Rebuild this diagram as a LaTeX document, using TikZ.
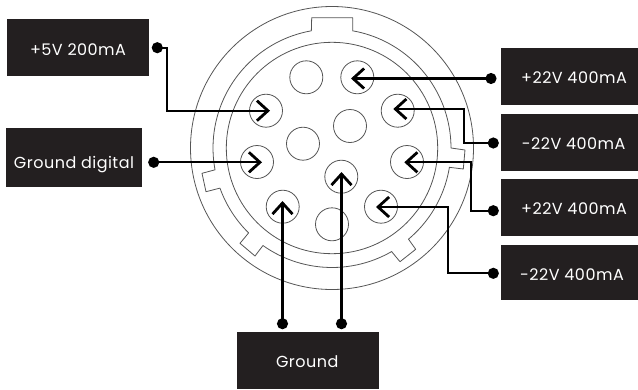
\documentclass[tikz,border=0pt]{standalone}
\usepackage{fontspec}
\setmainfont[LetterSpace=3]{Poppins}
\usetikzlibrary{arrows.meta}
\definecolor{boxc}{HTML}{231F20}
\definecolor{ringc}{HTML}{555555}
\tikzset{
  boxn/.style={fill=boxc,draw=none,inner sep=0pt,anchor=north west},
  txt/.style={text=white,inner sep=0pt,font=\fontsize{16}{18}\selectfont},
  ring/.style={draw=ringc,line width=0.8pt},
  pin/.style={circle,draw=ringc,line width=0.8pt,minimum size=33pt,inner sep=0pt},
  wire/.style={draw=black,line width=2.2pt,shorten <=-5.5pt,{Circle[length=11pt,width=11pt]}-{Straight Barb[length=11pt,width=20pt,line width=2.8pt]}},
}
\begin{document}
\begin{tikzpicture}[x=1pt,y=-1pt]
\useasboundingbox (0,0) rectangle (638,389);
% connector body
\coordinate (c) at (332,148);
\draw[ring] (c) circle[radius=141.5pt];
\draw[ring] (c) circle[radius=105.7pt];
\draw[ring,line join=round] (311.7,17.7) -- (352.7,17.7) -- (352.7,31)
  -- plot[domain=-80:0,samples=40] ({332+119*cos(\x)},{148+119*sin(\x)})
  -- (465,150) -- (463.3,169) -- (449.3,167.3)
  -- plot[domain=9.3:50,samples=20] ({332+119*cos(\x)},{148+119*sin(\x)})
  -- (415.7,249.3) -- (400,261.7) -- (391.7,251.7)
  -- plot[domain=60:125.3,samples=30] ({332+119.5*cos(\x)},{148+119.5*sin(\x)})
  -- (255,256) -- (240,243.3) -- (248.3,233.3)
  -- plot[domain=134.5:160.3,samples=15] ({332+119*cos(\x)},{148+119*sin(\x)})
  -- (206,191.7) -- (202,173.3) -- (214.3,170)
  -- plot[domain=169.4:260,samples=40] ({332+119*cos(\x)},{148+119*sin(\x)})
  -- cycle;
% pins
\node[pin] (p1) at (306.3,77.3) {};
\node[pin] (p2) at (357.3,77.3) {};
\node[pin] (p3) at (266,110.7) {};
\node[pin] (p4) at (397.7,110.7) {};
\node[pin] (p5) at (350,126) {};
\node[pin] (p6) at (303,143.7) {};
\node[pin] (p7) at (257,162) {};
\node[pin] (p8) at (407,162) {};
\node[pin] (p9) at (341.3,176.7) {};
\node[pin] (p10) at (282.7,206.7) {};
\node[pin] (p11) at (381,206.7) {};
\node[pin] (p12) at (332,224.3) {};
% boxes
\node[boxn,minimum width=142pt,minimum height=57pt] (b1) at (7,19) {};
\node[boxn,minimum width=136pt,minimum height=58.7pt] (b2) at (6,128) {};
\node[boxn,minimum width=137pt,minimum height=57pt] (b3) at (501,48) {};
\node[boxn,minimum width=137pt,minimum height=57pt] (b4) at (501,114) {};
\node[boxn,minimum width=137pt,minimum height=56.7pt] (b5) at (501,179) {};
\node[boxn,minimum width=137pt,minimum height=55pt] (b6) at (501,245) {};
\node[boxn,minimum width=142pt,minimum height=57pt] (b7) at (237,332) {};
% texts
\node[txt] (t1) at (78,50) {+5V 200mA};
\node[txt] (t2) at (74,164.5) {Ground digital};
\node[txt] (t3) at (574,78) {+22V 400mA};
\node[txt] (t4) at (573.7,144) {-22V 400mA};
\node[txt] (t5) at (574,209) {+22V 400mA};
\node[txt] (t6) at (572,274.7) {-22V 400mA};
\node[txt] (t7) at (307.2,361.2) {Ground};
% wire start points
\coordinate (d1) at (157.3,47.7);
\coordinate (d2) at (153.7,162.3);
\coordinate (d3) at (491,78.5);
\coordinate (d4) at (493.3,143);
\coordinate (d5) at (493.3,210.7);
\coordinate (d6) at (493.3,273.3);
\coordinate (d7) at (282.5,323.7);
\coordinate (d8) at (341.5,323.7);
% wires
\draw[wire] (d1) -- (167,47.7) -- (167,110.7) -- ([xshift=4pt]p3.center);
\draw[wire] (d2) -- ([xshift=5pt]p7.center |- d2);
\draw[wire] (d3) -- ([xshift=-6.3pt]p2.center |- d3);
\draw[wire] (d4) -- (464.3,143) -- (464.3,109) -- (393.3,109);
\draw[wire] (d5) -- (470.7,210.7) -- (470.7,162.3) -- (404.3,162.3);
\draw[wire] (d6) -- (447.7,273.3) -- (447.7,207) -- ([xshift=-5pt]p11.center |- 0,207);
\draw[wire] (d7) -- (d7 |- 0,201);
\draw[wire] (d8) -- (d8 |- 0,172);
\end{tikzpicture}
\end{document}
